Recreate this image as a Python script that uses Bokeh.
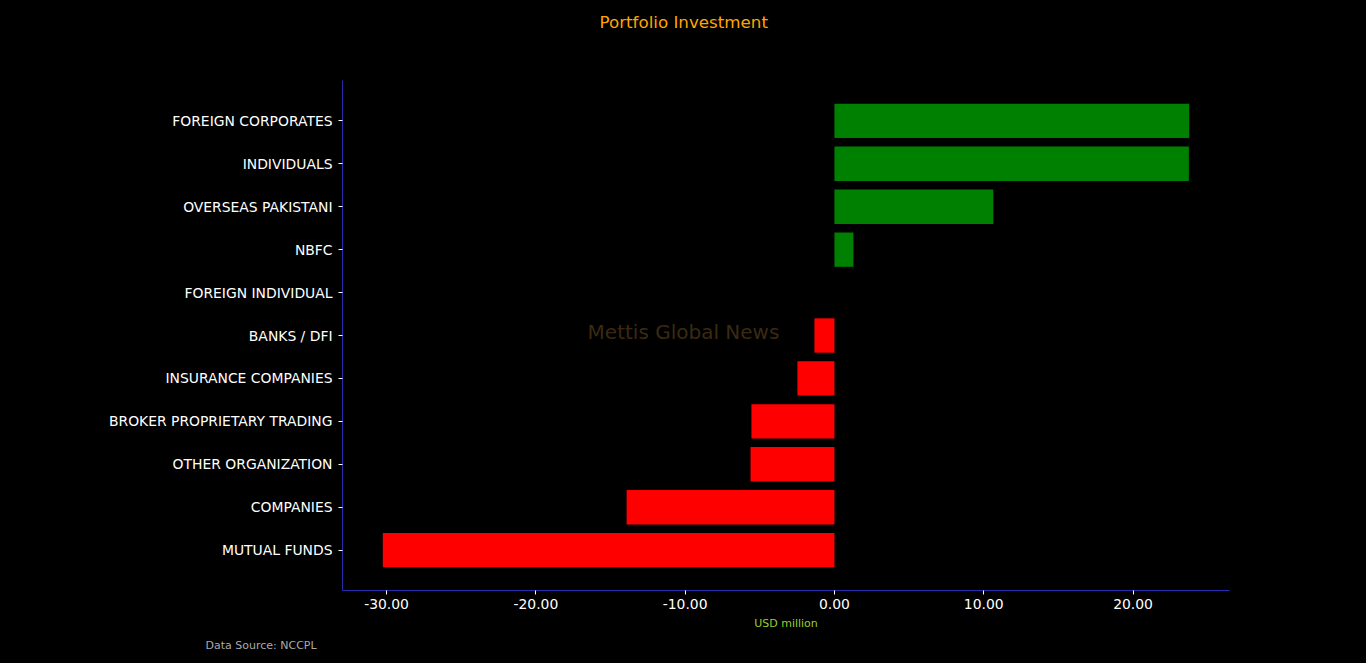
from bokeh.plotting import figure
from bokeh.models import Range1d, FixedTicker, NumeralTickFormatter, Label, ColumnDataSource, Title
from bokeh.embed import file_html
from bokeh.resources import INLINE

categories = ["FOREIGN CORPORATES", "INDIVIDUALS", "OVERSEAS PAKISTANI", "NBFC",
              "FOREIGN INDIVIDUAL", "BANKS / DFI", "INSURANCE COMPANIES",
              "BROKER PROPRIETARY TRADING", "OTHER ORGANIZATION", "COMPANIES", "MUTUAL FUNDS"]
values = [23.76, 23.74, 10.64, 1.27, 0.0, -1.34, -2.48, -5.56, -5.62, -13.92, -30.25]
x_ticks = [-30, -20, -10, 0, 10, 20]

n = len(categories)
pos = [n - 1 - i for i in range(n)]
colors = ["#008000" if v >= 0 else "#ff0000" for v in values]
src = ColumnDataSource(dict(y=pos, right=values, color=colors))

vmin, vmax = min(values), max(values)
pad = 0.05 * (vmax - vmin)
ylo, yhi = -0.4, n - 1 + 0.4
ypad = 0.05 * (yhi - ylo)

FONT = "DejaVu Sans"
p = figure(width=1366, height=663, output_backend="svg", toolbar_location=None,
           x_range=Range1d(vmin - pad, vmax + pad), y_range=Range1d(ylo - ypad, yhi + ypad),
           min_border_left=342, min_border_right=137, min_border_top=80, min_border_bottom=73,
           background_fill_color="black", border_fill_color="black", outline_line_color=None)
p.hbar(y="y", left=0, right="right", height=0.8, fill_color="color", line_color=None, source=src)

p.xgrid.visible = False
p.ygrid.visible = False
spine = "#2a2ab0"
for ax in (p.xaxis[0], p.yaxis[0]):
    ax.axis_line_color = spine
    ax.major_tick_line_color = "white"
    ax.minor_tick_line_color = None
    ax.major_tick_in = 0
    ax.major_tick_out = 4
    ax.major_label_text_color = "white"
    ax.major_label_text_font = FONT
    ax.major_label_text_font_size = "13.9px"

p.xaxis.ticker = FixedTicker(ticks=x_ticks)
p.xaxis.formatter = NumeralTickFormatter(format="0.00")
p.xaxis.major_label_standoff = 4
p.xaxis.axis_label = "USD million"
p.xaxis.axis_label_text_color = "yellowgreen"
p.xaxis.axis_label_text_font = FONT
p.xaxis.axis_label_text_font_style = "normal"
p.xaxis.axis_label_text_font_size = "11px"
p.xaxis.axis_label_standoff = 5

# spacer panel nearest the frame, then the title above it
spacer = Title(text=" ", text_font_size="10px", standoff=31, text_color="black")
p.add_layout(spacer, "above")
t = Title(text="Portfolio Investment", align="left", offset=257, standoff=10,
          text_color="orange", text_font=FONT, text_font_size="16.7px", text_font_style="normal")
p.add_layout(t, "above")

src_t = Title(text="Data Source: NCCPL", align="left", offset=-137, standoff=8,
              text_color="#aaaaaa", text_font=FONT, text_font_size="11px", text_font_style="normal")
p.add_layout(src_t, "below")

p.yaxis.ticker = FixedTicker(ticks=pos)
p.yaxis.major_label_overrides = {pp: c for pp, c in zip(pos, categories)}
p.yaxis.major_label_standoff = 6

p.add_layout(Label(x=341, y=259, x_units="screen", y_units="screen", text="Mettis Global News",
                   text_color="#3b2a10", text_font=FONT, text_font_size="20px",
                   text_align="center", text_baseline="middle"))

html = file_html(p, INLINE)
html = html.replace("<head>", "<head><style>html,body{background:#000;}</style>", 1)
open("out.html", "w").write(html)
